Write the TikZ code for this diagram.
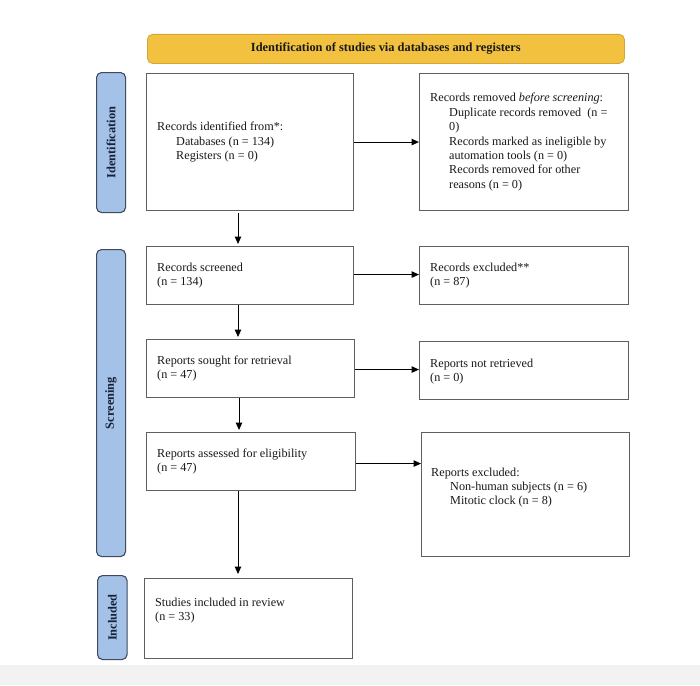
\documentclass[tikz,border=0pt]{standalone}
\usepackage{fontspec}
\setmainfont{Liberation Serif}
\usetikzlibrary{arrows.meta}
\definecolor{bannerfill}{RGB}{243,193,64}
\definecolor{bannerline}{RGB}{214,166,52}
\definecolor{bandfill}{RGB}{164,194,232}
\definecolor{bandline}{RGB}{62,74,96}
\definecolor{bandtext}{RGB}{22,32,56}
\definecolor{boxline}{RGB}{95,95,95}
\definecolor{inktext}{RGB}{25,25,25}
\definecolor{footgray}{RGB}{242,242,242}
\begin{document}
\begin{tikzpicture}[x=1pt,y=-1pt,
  box/.style={draw=boxline, line width=1.1pt, fill=white, anchor=north west, inner sep=0pt},
  txt/.style={anchor=west, inner sep=0pt, align=left, text=inktext, font=\fontsize{12.2}{14.4}\selectfont},
  band/.style={draw=bandline, line width=1.1pt, fill=bandfill, rounded corners=5pt, anchor=north west, inner sep=0pt},
  bandtxt/.style={rotate=90, inner sep=0pt, text=bandtext, font=\fontsize{12.4}{14}\selectfont\bfseries},
  banner/.style={draw=bannerline, line width=0.8pt, fill=bannerfill, rounded corners=5pt, anchor=north west, inner sep=0pt, text=inktext, font=\fontsize{12.4}{14}\selectfont\bfseries},
  arr/.style={line width=1pt, draw=black, -{Triangle[length=7.5pt,width=6.5pt]}}
]
\useasboundingbox (0,0) rectangle (700,685);
\fill[white] (0,0) rectangle (700,685);
\fill[footgray] (0,665) rectangle (700,685);

% banner
\node[banner, minimum width=477pt, minimum height=29pt] (banner) at (147,34) {Identification of studies via databases and registers};

% side bands
\node[band, minimum width=29pt, minimum height=140pt] (bandid) at (96,72) {};
\node[bandtxt] (bandidtxt) at (bandid.center) {Identification};
\node[band, minimum width=29pt, minimum height=307pt] (bandsc) at (96,249) {};
\node[bandtxt] (bandsctxt) at (bandsc.center) {Screening};
\node[band, minimum width=29.5pt, minimum height=84pt] (bandin) at (97,575) {};
\node[bandtxt] (bandintxt) at (bandin.center) {Included};

% boxes
\node[box, minimum width=207pt, minimum height=137pt] (ident) at (146,73) {};
\node[txt] (identtxt) at ([xshift=11pt]ident.west) {Records identified from*:\\\hspace*{19pt}Databases (n = 134)\\\hspace*{19pt}Registers (n = 0)};

\node[box, minimum width=209pt, minimum height=137pt] (removed) at (419,73) {};
\node[txt] (removedtxt) at ([xshift=11pt]removed.west) {Records removed \textit{before screening}:\\\hspace*{19pt}Duplicate records removed\ \ (n =\\\hspace*{19pt}0)\\\hspace*{19pt}Records marked as ineligible by\\\hspace*{19pt}automation tools (n = 0)\\\hspace*{19pt}Records removed for other\\\hspace*{19pt}reasons (n = 0)};

\node[box, minimum width=207pt, minimum height=58pt] (screen) at (146,246) {};
\node[txt] (screentxt) at ([xshift=11pt]screen.west) {Records screened\\(n = 134)};

\node[box, minimum width=209pt, minimum height=58pt] (recexcl) at (419,246) {};
\node[txt] (recexcltxt) at ([xshift=11pt]recexcl.west) {Records excluded**\\(n = 87)};

\node[box, minimum width=208pt, minimum height=58pt] (sought) at (146,339) {};
\node[txt] (soughttxt) at ([xshift=11pt]sought.west) {Reports sought for retrieval\\(n = 47)};

\node[box, minimum width=209pt, minimum height=58pt] (notret) at (419,341) {};
\node[txt] (notrettxt) at ([xshift=11pt,yshift=-1pt]notret.west) {Reports not retrieved\\(n = 0)};

\node[box, minimum width=209pt, minimum height=58pt] (assessed) at (146,432) {};
\node[txt] (assessedtxt) at ([xshift=11pt]assessed.west) {Reports assessed for eligibility\\(n = 47)};

\node[box, minimum width=208pt, minimum height=124pt] (repexcl) at (421,432) {};
\node[txt] (repexcltxt) at ([xshift=10pt,yshift=7pt]repexcl.west) {Reports excluded:\\\hspace*{19pt}Non-human subjects (n = 6)\\\hspace*{19pt}Mitotic clock (n = 8)};

\node[box, minimum width=208pt, minimum height=80pt] (studies) at (144,578) {};
\node[txt] (studiestxt) at ([xshift=11pt,yshift=8pt]studies.west) {Studies included in review\\(n = 33)};

% connectors
\coordinate (spine) at (238,0);
\draw[arr, shorten <=2pt, shorten >=2pt] (ident.south -| spine) -- (screen.north -| spine);
\draw[arr, shorten >=2pt] (screen.south -| spine) -- (sought.north -| spine);
\draw[arr, shorten >=2pt] ([xshift=1pt]sought.south -| spine) -- ([xshift=1pt]assessed.north -| spine);
\draw[arr, shorten >=4pt] (assessed.south -| spine) -- (studies.north -| spine);

\draw[arr] (ident.east) -- (removed.west |- ident.east);
\draw[arr] ([yshift=1pt]screen.east) -- ([yshift=1pt]recexcl.west |- screen.east);
\draw[arr] ([yshift=-1pt]sought.east) -- ([yshift=-1pt]notret.west |- sought.east);
\draw[arr] ([yshift=-2pt]assessed.east) -- ([yshift=-2pt]repexcl.west |- assessed.east);
\end{tikzpicture}
\end{document}
